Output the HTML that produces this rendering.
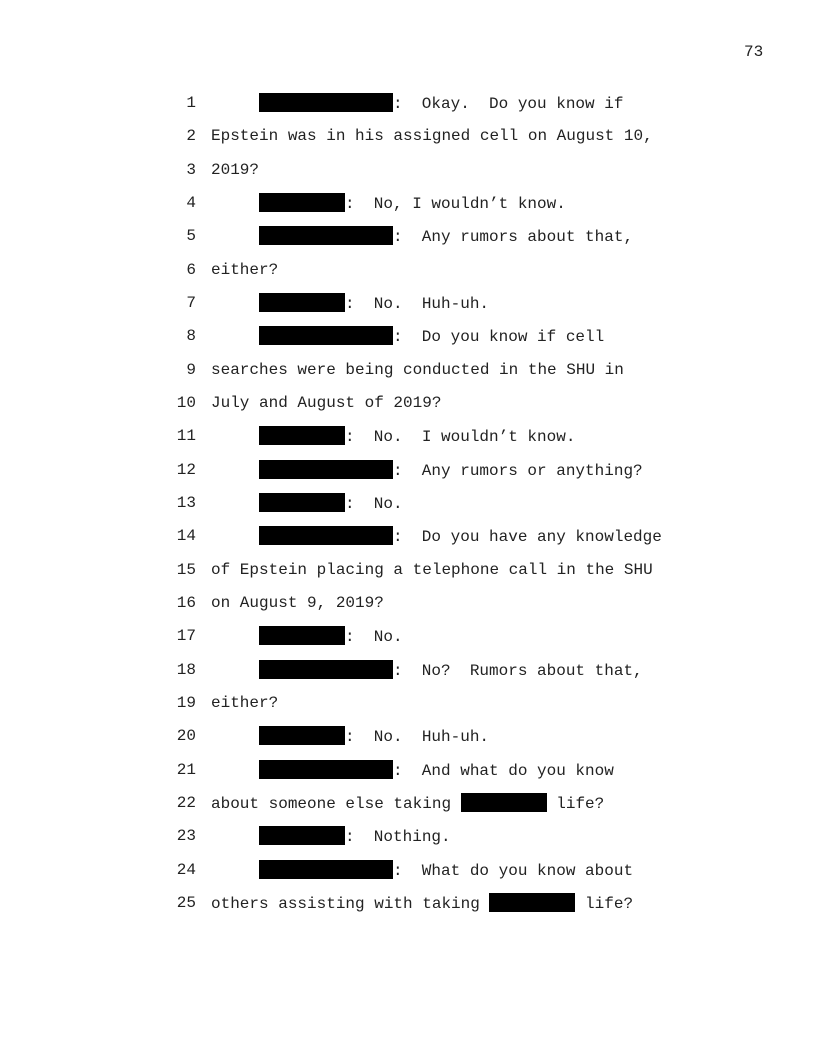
<!DOCTYPE html>
<html><head><style>
html,body{margin:0;padding:0;background:#fff;}
body{width:816px;height:1056px;position:relative;overflow:hidden;font-family:"Liberation Mono",monospace;font-size:16px;color:#222;}
.l{position:absolute;left:211px;height:20px;line-height:20px;white-space:pre;}
.n{position:absolute;left:150px;width:46px;text-align:right;height:20px;line-height:20px;}
.r{display:inline-block;background:#000;height:19px;vertical-align:-4px;}
.L{width:134px;margin-left:48px;}
.S{width:86px;margin-left:48px;}
.M{width:86px;}
</style></head><body>
<div style="position:absolute;left:744px;top:42px;line-height:20px;">73</div>

<div class="n" style="top:93px">1</div><div class="l" style="top:93px"><span class="r L"></span><span>:  Okay.  Do you know if</span></div>
<div class="n" style="top:126px">2</div><div class="l" style="top:126px">Epstein was in his assigned cell on August 10,</div>
<div class="n" style="top:160px">3</div><div class="l" style="top:160px">2019?</div>
<div class="n" style="top:193px">4</div><div class="l" style="top:193px"><span class="r S"></span><span>:  No, I wouldn’t know.</span></div>
<div class="n" style="top:226px">5</div><div class="l" style="top:226px"><span class="r L"></span><span>:  Any rumors about that,</span></div>
<div class="n" style="top:260px">6</div><div class="l" style="top:260px">either?</div>
<div class="n" style="top:293px">7</div><div class="l" style="top:293px"><span class="r S"></span><span>:  No.  Huh-uh.</span></div>
<div class="n" style="top:326px">8</div><div class="l" style="top:326px"><span class="r L"></span><span>:  Do you know if cell</span></div>
<div class="n" style="top:360px">9</div><div class="l" style="top:360px">searches were being conducted in the SHU in</div>
<div class="n" style="top:393px">10</div><div class="l" style="top:393px">July and August of 2019?</div>
<div class="n" style="top:426px">11</div><div class="l" style="top:426px"><span class="r S"></span><span>:  No.  I wouldn’t know.</span></div>
<div class="n" style="top:460px">12</div><div class="l" style="top:460px"><span class="r L"></span><span>:  Any rumors or anything?</span></div>
<div class="n" style="top:493px">13</div><div class="l" style="top:493px"><span class="r S"></span><span>:  No.</span></div>
<div class="n" style="top:526px">14</div><div class="l" style="top:526px"><span class="r L"></span><span>:  Do you have any knowledge</span></div>
<div class="n" style="top:560px">15</div><div class="l" style="top:560px">of Epstein placing a telephone call in the SHU</div>
<div class="n" style="top:593px">16</div><div class="l" style="top:593px">on August 9, 2019?</div>
<div class="n" style="top:626px">17</div><div class="l" style="top:626px"><span class="r S"></span><span>:  No.</span></div>
<div class="n" style="top:660px">18</div><div class="l" style="top:660px"><span class="r L"></span><span>:  No?  Rumors about that,</span></div>
<div class="n" style="top:693px">19</div><div class="l" style="top:693px">either?</div>
<div class="n" style="top:726px">20</div><div class="l" style="top:726px"><span class="r S"></span><span>:  No.  Huh-uh.</span></div>
<div class="n" style="top:760px">21</div><div class="l" style="top:760px"><span class="r L"></span><span>:  And what do you know</span></div>
<div class="n" style="top:793px">22</div><div class="l" style="top:793px">about someone else taking <span class="r M"></span> life?</div>
<div class="n" style="top:826px">23</div><div class="l" style="top:826px"><span class="r S"></span><span>:  Nothing.</span></div>
<div class="n" style="top:860px">24</div><div class="l" style="top:860px"><span class="r L"></span><span>:  What do you know about</span></div>
<div class="n" style="top:893px">25</div><div class="l" style="top:893px">others assisting with taking <span class="r M"></span> life?</div>
</body></html>
